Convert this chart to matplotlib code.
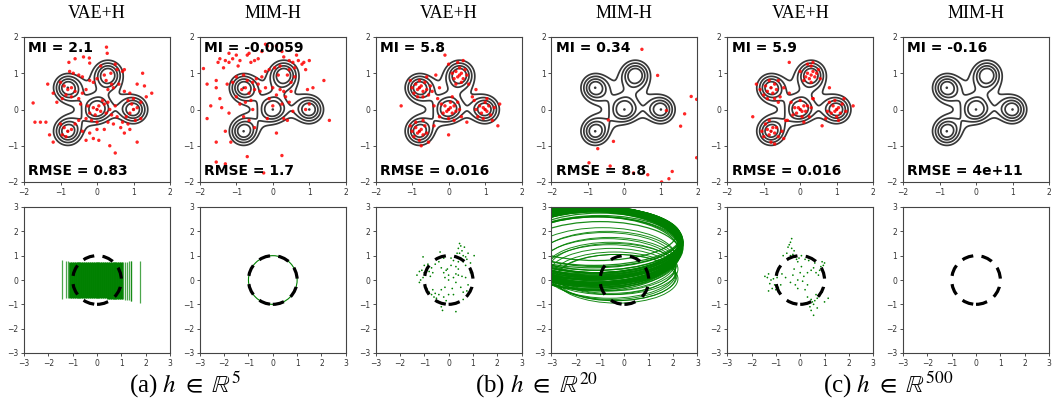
import numpy as np
import matplotlib
matplotlib.use('Agg')
import matplotlib.pyplot as plt
from matplotlib.patches import Circle, Ellipse

plt.rcParams['mathtext.fontset'] = 'stix'

# mixture components of the target density
mu_x = [-0.8, 0.3, 0.0, 1.0, -0.8]
mu_y = [0.6, 0.95, 0.0, 0.0, -0.6]
sig = [0.33, 0.342, 0.33, 0.33, 0.33]
wts = [1.0, 1.02, 1.0, 1.0, 1.0]
peak_dot = [True, False, True, True, True]
levels = [0.4976, 0.643, 0.776, 0.889]

titles = ['VAE+H', 'MIM-H', 'VAE+H', 'MIM-H', 'VAE+H', 'MIM-H']
mi_vals = ['2.1', '-0.0059', '5.8', '0.34', '5.9', '-0.16']
rmse_vals = ['0.83', '1.7', '0.016', '8.8', '0.016', '4e+11']
captions = [r'(a) $h\ \in\ \mathbb{R}^5$', r'(b) $h\ \in\ \mathbb{R}^{20}$', r'(c) $h\ \in\ \mathbb{R}^{500}$']

# reconstructed samples (top row)
pts_a_vae = [(0.26,1.72),(0.28,1.55),(-0.77,1.30),(-0.37,1.45),(-0.21,1.42),(-0.6,1.4),(-0.2,1.28),(0.5,1.25),
    (0.1,1.2),(0.75,1.1),(0.7,1.05),(0.55,1.1),(0.38,1.0),(0.2,0.95),(0.25,0.8),(-0.75,1.05),(-0.65,1.0),
    (-0.5,0.95),(-0.4,0.9),(-0.2,0.8),(-0.1,0.75),(0.0,0.85),(0.4,0.7),(0.45,0.6),(0.3,0.55),(0.6,0.7),
    (1.25,1.0),(1.1,0.7),(1.3,0.65),(1.5,0.45),(1.35,0.35),(0.9,0.45),(0.75,0.5),(0.85,0.25),(1.0,0.3),(1.2,0.2),
    (-1.0,0.75),(-0.9,0.65),(-0.8,0.55),(-0.7,0.6),(-0.85,0.4),(-0.95,0.3),(-0.7,0.35),(-0.6,0.5),(-1.35,0.7),
    (-1.2,0.45),(-1.1,0.2),(-0.5,0.3),(-0.4,0.45),(-0.3,0.55),(-0.45,0.15),
    (0.0,0.0),(0.05,0.1),(-0.1,0.05),(0.1,-0.05),(0.2,0.15),(0.3,0.2),(0.25,-0.1),(-0.05,-0.15),(-0.2,-0.1),
    (-0.25,0.1),(0.15,0.25),(0.35,0.0),(0.4,-0.15),(0.5,0.1),(0.55,-0.2),(-0.3,-0.25),(-0.15,-0.3),(0.0,-0.35),
    (0.3,-0.35),(0.45,-0.4),
    (1.0,0.0),(0.9,-0.1),(1.1,0.05),(0.95,0.15),(0.8,-0.2),(1.05,-0.3),(0.85,-0.4),(0.7,-0.35),(1.2,-0.25),
    (0.65,-0.5),(0.75,-0.65),(1.1,-0.9),(0.9,-0.55),
    (-0.8,-0.6),(-0.9,-0.5),(-0.7,-0.55),(-0.85,-0.75),(-0.95,-0.7),(-1.0,-0.4),(-0.6,-0.4),(-0.5,-0.3),
    (-1.3,-0.7),(-1.4,-0.35),(-1.55,-0.35),(-1.75,0.18),(-1.7,-0.35),(-1.2,-0.9),(-0.4,-0.6),(-0.3,-0.85),
    (-0.2,-0.65),(-0.1,-0.8),(0.05,-0.85),(0.35,-1.0),(0.5,-1.2),(0.2,-0.55),(0.0,-0.55)]

pts_a_mim = [(-1.9,1.13),(-1.8,0.7),(-1.7,0.1),(-1.8,-0.25),(-1.5,1.3),(-1.45,1.4),(-1.3,1.35),(-1.35,1.15),
    (-1.2,1.3),(-1.1,1.4),(-1.0,1.5),(-0.95,1.2),(-0.7,1.5),(-0.65,1.55),(-0.6,1.3),(-0.5,1.35),(-0.4,1.4),
    (-0.3,1.6),(-0.2,1.8),(-0.15,1.75),(0.1,1.75),(0.25,1.6),(0.3,1.45),(0.45,1.35),(0.55,1.3),(0.7,1.35),
    (0.65,1.5),(0.85,1.3),(1.0,1.35),(0.9,1.1),(0.6,1.15),(0.2,1.2),(0.05,1.15),(-0.1,1.1),(-0.2,1.05),
    (-0.3,0.9),(-0.45,0.85),(-0.55,0.75),(-0.7,0.8),(-0.8,0.95),(-1.0,0.9),(-1.1,0.75),(-1.25,0.7),(-1.55,0.8),
    (-1.55,0.6),(-1.45,0.3),(-1.4,0.05),(-1.2,-0.1),(-1.0,0.35),(-0.85,0.55),(-0.75,0.6),(-0.65,0.45),
    (-0.5,0.55),(-0.4,0.7),(-0.35,0.5),(-0.6,0.25),(-0.75,0.2),(-0.9,0.15),(-0.55,0.0),(-0.65,-0.3),
    (-0.5,-0.5),(-0.2,0.6),(0.0,0.6),(0.2,0.55),(0.1,0.4),(0.3,0.5),(0.35,0.35),(0.5,0.5),(0.45,0.2),
    (0.25,0.15),(0.0,0.1),(-0.1,0.3),(0.55,-0.05),(0.4,-0.3),(0.3,-0.25),(0.1,-0.65),(0.5,0.75),(0.6,0.9),
    (0.4,0.95),(0.15,0.95),(0.95,0.55),(1.0,0.15),(1.1,0.6),(1.4,0.8),(1.55,-0.3),(0.9,0.0),(-1.55,-0.9),
    (-1.55,-1.45),(-1.3,-1.5),(-0.7,-1.3),(0.25,-1.27),(-0.25,-1.75),(-1.3,-0.6),(-1.15,-0.9),(-0.8,-0.2),
    (-0.15,-0.25),(0.8,1.25),(-0.9,1.35),(-1.2,1.55),(0.45,1.1)]

pts_b_vae = [(-0.8,0.6),(-0.75,0.65),(-0.85,0.55),(-0.7,0.5),(-0.9,0.7),(-0.6,0.55),(-0.95,0.45),(-0.8,0.8),
    (-0.65,0.75),(-0.55,0.4),(-1.0,0.6),(-0.7,0.35),(-0.85,0.35),(-0.5,0.65),(-0.6,0.9),(-1.05,0.8),(-0.45,0.5),
    (0.3,0.95),(0.35,1.0),(0.25,0.9),(0.4,0.85),(0.2,1.05),(0.3,1.15),(0.45,1.1),(0.15,0.85),(0.35,0.75),
    (0.5,0.95),(0.25,1.3),(0.4,1.35),(0.1,1.0),(0.55,0.7),(0.2,0.7),
    (0.0,0.0),(0.05,0.05),(-0.05,-0.05),(0.1,-0.1),(-0.1,0.1),(0.15,0.1),(0.2,-0.05),(-0.15,-0.1),(0.05,0.2),
    (-0.2,0.15),(0.25,0.2),(0.0,-0.25),(0.3,0.0),(-0.25,-0.2),(0.1,0.35),(-0.3,0.3),(0.35,-0.2),(0.15,-0.3),
    (1.0,0.0),(0.95,0.05),(1.05,-0.05),(0.9,-0.1),(1.1,0.1),(0.85,0.1),(1.15,-0.15),(1.0,0.2),(0.95,-0.25),
    (0.75,0.0),(1.25,0.05),(0.8,-0.2),(1.05,0.3),(1.2,-0.3),(0.7,0.25),(1.4,0.15),
    (-0.8,-0.6),(-0.75,-0.55),(-0.85,-0.65),(-0.9,-0.5),(-0.7,-0.7),(-0.95,-0.75),(-0.65,-0.45),(-0.8,-0.85),
    (-1.0,-0.6),(-0.6,-0.65),(-0.75,-1.0),(-0.9,-0.35),(-0.55,-0.9),(-1.05,-0.45),(-0.7,-0.3),
    (-0.1,1.5),(0.0,1.25),(-0.35,0.95),(0.75,0.55),(0.65,0.35),(-0.4,-0.45),(0.5,-0.35),(-0.25,0.6),
    (1.35,-0.45),(0.0,-0.7),(-1.3,0.1),(-0.4,0.1)]

pts_b_mim = [(0.48,1.66),(0.91,0.94),(1.83,0.36),(1.98,0.28),(1.15,-0.03),(1.65,-0.12),(1.54,-0.46),
    (-0.44,-0.29),(-0.3,-0.88),(-0.73,-1.08),(-0.97,-1.47),(-0.39,-1.56),(0.25,-1.75),(0.64,-1.8),
    (1.31,-1.71),(1.22,-1.91),(1.02,-2.0),(1.98,-1.33)]

pts_c_vae = [(-0.8,0.6),(-0.7,0.7),(-0.9,0.5),(-0.75,0.45),(-0.95,0.65),(-0.65,0.55),(-1.0,0.4),(-0.85,0.8),
    (-0.6,0.8),(-0.55,0.35),(-1.1,0.55),(-0.7,0.3),(-0.9,0.3),(-0.45,0.6),(-1.2,0.7),(-0.6,0.2),(-0.3,0.45),
    (0.3,0.95),(0.35,1.05),(0.25,0.85),(0.4,0.9),(0.2,1.0),(0.3,1.2),(0.45,1.0),(0.15,0.9),(0.3,0.75),
    (0.5,1.1),(0.35,1.3),(0.2,1.25),(0.1,0.8),(0.55,0.85),(0.0,1.05),
    (0.0,0.0),(0.05,-0.05),(-0.05,0.05),(0.1,0.1),(-0.1,-0.1),(0.15,-0.05),(0.2,0.1),(-0.15,0.05),(0.05,-0.2),
    (-0.2,-0.15),(0.25,-0.2),(0.0,0.25),(0.3,0.05),(-0.25,0.2),(0.1,-0.35),(0.35,0.3),(-0.35,-0.3),
    (1.0,0.0),(0.95,-0.05),(1.05,0.05),(0.9,0.1),(1.1,-0.1),(0.85,-0.1),(1.15,0.15),(1.0,-0.2),(0.95,0.25),
    (0.75,-0.05),(1.25,-0.05),(0.8,0.2),(1.05,-0.3),(1.2,0.3),(0.7,-0.25),
    (-0.8,-0.6),(-0.75,-0.5),(-0.85,-0.7),(-0.9,-0.55),(-0.7,-0.65),(-1.0,-0.75),(-0.65,-0.5),(-0.8,-0.9),
    (-1.05,-0.6),(-0.6,-0.75),(-0.7,-0.95),(-0.95,-0.4),(-0.5,-0.6),(-0.85,-0.3),
    (-0.4,-0.3),(0.35,0.3),(-0.3,1.3),(0.8,0.6),(0.6,-0.45),(-0.45,-0.8),(1.45,0.1),(-1.3,-0.2)]

pts_c_mim = []

# latent codes / posteriors (bottom row)
seg_x = [-1.45, -1.27, -1.21, 1.02, 1.08, 1.15, 1.22, 1.3, 1.38, 1.41, 1.78]
seg_lo = [-0.78, -0.75, -0.75, -0.8, -0.8, -0.82, -0.82, -0.83, -0.85, -0.85, -0.95]
seg_hi = [0.84, 0.78, 0.78, 0.74, 0.75, 0.76, 0.76, 0.77, 0.8, 0.78, 0.8]
blk_x = [-1.1, -1.03, -0.95, -0.87, -0.8, -0.72, -0.64, -0.56, -0.49, -0.41, -0.33, -0.25, -0.18, -0.1,
    -0.02, 0.06, 0.13, 0.21, 0.29, 0.37, 0.44, 0.52, 0.6, 0.68, 0.75, 0.83, 0.91, 0.97]
blk_lo = [-0.72, -0.72, -0.72, -0.72, -0.72, -0.73, -0.73, -0.73, -0.73, -0.74, -0.74, -0.74, -0.75, -0.75,
    -0.75, -0.75, -0.76, -0.76, -0.76, -0.76, -0.77, -0.77, -0.77, -0.77, -0.78, -0.78, -0.78, -0.78]
blk_hi = [0.74, 0.74, 0.74, 0.73, 0.73, 0.73, 0.73, 0.73, 0.73, 0.72, 0.72, 0.72, 0.72, 0.72,
    0.72, 0.72, 0.72, 0.72, 0.72, 0.72, 0.72, 0.72, 0.72, 0.72, 0.72, 0.72, 0.72, 0.72]

ell_cx = [-0.3, -0.4, -0.5, -0.6, -0.45, -0.7, -0.6, -0.8, -0.7, -0.9, -0.35, -0.55,
    -1.0, -1.1, -1.2, -1.3, -1.0, -1.15, -1.25, -1.05, -1.35, -1.1, -1.2, -1.3, -1.0, -1.4, -1.15, -1.25,
    -1.05, -1.3, -1.2, -1.1, -1.35, -1.0, -1.25, -1.15,
    -1.1, -1.2, -1.3, -1.4, -1.5, -1.0, -1.15, -1.25, -1.35, -1.45, -1.05, -1.2, -1.3, -1.4, -1.1,
    -1.25, -1.35, -1.5, -1.0, -1.2, -1.3, -1.15, -1.4, -1.05, -1.25, -1.35, -1.1, -1.45, -1.2, -1.3]
ell_cy = [0.05, 0.15, 0.25, 0.35, 0.45, 0.55, 0.65, 0.75, 0.85, 0.95, 0.1, 0.5,
    1.1, 1.2, 1.3, 1.4, 1.5, 1.35, 1.45, 1.25, 1.55, 1.6, 1.15, 1.3, 1.4, 1.5, 1.7, 1.8,
    1.65, 1.2, 1.45, 1.75, 1.35, 1.55, 1.6, 1.9,
    1.35, 1.4, 1.45, 1.5, 1.55, 1.3, 1.6, 1.65, 1.4, 1.45, 1.5, 1.55, 1.25, 1.35, 1.7,
    1.5, 1.6, 1.4, 1.45, 1.3, 1.75, 1.2, 1.65, 1.35, 1.55, 1.3, 1.45, 1.6, 1.4, 1.5]
ell_w = [5.0, 5.1, 5.2, 5.4, 5.3, 5.6, 5.5, 5.8, 5.7, 6.0, 4.9, 5.3,
    6.6, 6.8, 7.0, 7.2, 6.8, 7.0, 7.2, 6.8, 7.4, 7.0, 6.9, 7.1, 6.6, 7.6, 7.0, 7.1,
    6.6, 7.2, 7.0, 6.8, 7.4, 6.6, 7.0, 6.6,
    7.0, 7.1, 7.3, 7.5, 7.7, 6.8, 7.1, 7.2, 7.3, 7.6, 6.9, 7.2, 7.1, 7.4, 6.9,
    7.3, 7.4, 7.6, 6.7, 7.0, 7.2, 6.9, 7.5, 6.8, 7.2, 7.2, 7.0, 7.6, 7.1, 7.3]
ell_h = [2.0, 2.0, 2.1, 2.2, 2.1, 2.3, 2.2, 2.4, 2.3, 2.4, 1.9, 2.1,
    2.6, 2.8, 3.0, 3.0, 2.8, 2.9, 3.2, 2.7, 3.0, 2.6, 2.9, 3.1, 2.5, 2.8, 2.6, 2.4,
    2.7, 3.2, 2.9, 2.4, 3.1, 2.6, 2.6, 2.2,
    3.0, 3.1, 3.1, 3.0, 3.0, 2.9, 2.8, 2.7, 3.2, 3.1, 2.9, 2.8, 3.3, 3.2, 2.6,
    3.0, 2.8, 3.2, 3.0, 3.2, 2.5, 3.3, 2.8, 3.1, 2.9, 3.3, 3.1, 2.9, 3.2, 3.0]

z_b_vae = [(0.45,1.5),(0.5,1.4),(0.4,1.3),(0.55,1.2),(0.45,1.1),(0.6,1.0),(0.7,0.95),(0.5,0.9),(0.35,1.1),
    (0.65,1.35),(0.75,0.85),(0.3,0.95),(0.8,1.1),(1.05,1.0),(0.6,0.75),(0.7,0.6),(0.4,0.75),(0.3,0.55),
    (0.2,0.8),(0.9,0.7),
    (-1.3,0.2),(-1.2,0.35),(-1.1,0.4),(-1.0,0.3),(-0.9,0.45),(-0.95,0.2),(-1.05,0.1),(-1.15,0.0),(-0.8,0.35),
    (-0.7,0.5),(-1.0,0.6),(-0.85,0.65),(-1.05,0.95),(-0.75,0.15),(-1.2,-0.1),(-0.65,0.3),
    (-0.35,1.15),(-0.2,0.9),(-0.4,0.75),(-0.55,0.65),(-0.3,0.5),(-0.1,0.4),(-0.2,0.3),(0.0,0.2),(-0.05,0.45),
    (0.1,0.6),(-0.15,0.1),
    (-0.8,-0.5),(-0.7,-0.6),(-0.6,-0.7),(-0.5,-0.75),(-0.45,-0.85),(-0.35,-0.95),(-0.3,-1.1),(-0.25,-1.25),
    (-0.55,-0.55),(-0.65,-0.4),(-0.4,-0.6),(-0.9,-0.35),(-0.3,-0.4),(-0.2,-0.7),(-0.1,-0.85),(0.0,-0.6),
    (-0.15,-0.3),
    (0.0,0.0),(0.2,0.1),(0.3,-0.1),(0.4,0.2),(0.5,-0.3),(0.6,-0.5),(0.7,0.1),(0.8,-0.2),(0.6,-0.8),(0.3,-1.3),
    (0.4,0.45),(0.15,-0.35),(0.75,-0.45),(0.9,0.3),(0.2,-0.6),(0.1,0.9),(0.3,0.25),(0.55,0.15)]

z_c_vae = [(-0.35,1.7),(-0.4,1.55),(-0.45,1.45),(-0.5,1.35),(-0.35,1.3),(-0.25,1.2),(-0.3,1.05),(-0.4,1.0),
    (-0.55,1.1),(-0.2,0.95),(-0.15,0.85),(-0.1,0.75),(-0.7,1.0),(0.05,1.0),(-0.05,0.9),(0.2,0.85),(0.35,0.8),
    (0.5,0.85),(0.6,0.7),
    (0.9,0.75),(1.0,0.7),(0.85,0.55),(0.8,0.4),(0.75,0.2),(0.65,0.3),(0.95,0.6),(0.55,0.5),(0.45,0.4),
    (-1.45,0.15),(-1.35,0.1),(-1.3,0.25),(-1.2,0.0),(-1.25,-0.15),(-1.1,0.05),(-1.05,-0.2),(-1.15,-0.35),
    (-1.0,-0.4),(-0.9,-0.3),(-0.85,-0.5),(-0.95,0.1),(-0.8,-0.2),(-1.3,-0.45),(-0.75,0.25),(-0.6,0.1),
    (-0.3,0.2),(-0.1,0.0),(0.1,-0.05),(0.0,0.3),(-0.2,-0.2),(0.15,0.15),(-0.4,-0.1),(0.3,-0.2),(-0.1,-0.35),
    (0.2,-0.4),(-0.25,0.45),(0.05,0.55),(0.3,0.3),
    (0.3,-0.7),(0.45,-0.8),(0.5,-0.9),(0.6,-0.85),(0.55,-1.0),(0.4,-1.1),(0.45,-1.25),(0.55,-1.45),(0.7,-0.75),
    (0.8,-0.65),(0.7,-1.15),(1.0,-0.9),(1.15,-0.75),(0.35,-0.95),(0.65,-0.6),(0.9,-0.5)]

top_pts = [pts_a_vae, pts_a_mim, pts_b_vae, pts_b_mim, pts_c_vae, pts_c_mim]

W, H = 1053, 412
fig = plt.figure(figsize=(W / 100, H / 100), dpi=100)
lefts = [24, 199.8, 375.6, 551.4, 727.2, 903]

# density on a grid
gx, gy = np.meshgrid(np.linspace(-2, 2, 400), np.linspace(-2, 2, 400))
dens = np.zeros_like(gx)
for mx, my, s, w in zip(mu_x, mu_y, sig, wts):
    dens += w * np.exp(-((gx - mx) ** 2 + (gy - my) ** 2) / (2 * s ** 2))
dot_x = [m for m, d in zip(mu_x, peak_dot) if d]
dot_y = [m for m, d in zip(mu_y, peak_dot) if d]


def style(ax, lim):
    ax.set_xlim(-lim, lim)
    ax.set_ylim(-lim, lim)
    ax.set_xticks(range(-lim, lim + 1))
    ax.set_yticks(range(-lim, lim + 1))
    ax.tick_params(labelsize=5.5, length=2.5, width=0.6, pad=1.5, colors='#333333')
    for sp in ax.spines.values():
        sp.set_linewidth(0.8)
        sp.set_color('#444444')


for i in range(6):
    ax = fig.add_axes([lefts[i] / W, 1 - 182 / H, 146 / W, 145 / H])
    ax.contour(gx, gy, dens, levels=levels, colors='#383838', linewidths=1.25)
    ax.scatter(dot_x, dot_y, s=3.5, c='#383838', edgecolors='none')
    pts = top_pts[i]
    if pts:
        ax.scatter([p[0] for p in pts], [p[1] for p in pts], s=6, c='red', edgecolors='none', alpha=0.85, zorder=3)
    style(ax, 2)
    ax.text(0.03, 0.975, 'MI = ' + mi_vals[i], transform=ax.transAxes, fontsize=10, fontweight='bold', va='top', ha='left')
    ax.text(0.03, 0.045, 'RMSE = ' + rmse_vals[i], transform=ax.transAxes, fontsize=10, fontweight='bold', va='baseline', ha='left')
    fig.text((lefts[i] + 73) / W, 1 - 13 / H, titles[i], family='Liberation Serif', fontsize=13, ha='center', va='center')

    bx = fig.add_axes([lefts[i] / W, 1 - 353 / H, 146 / W, 146 / H])
    if i == 0:
        bx.vlines(blk_x, blk_lo, blk_hi, colors='green', linewidth=2.0)
        bx.vlines(seg_x, seg_lo, seg_hi, colors='green', linewidth=0.9, alpha=0.7)
    elif i == 1:
        bx.add_patch(Circle((0, 0), 1, fill=False, ec='green', lw=0.8))
    elif i == 2:
        bx.scatter([p[0] for p in z_b_vae], [p[1] for p in z_b_vae], s=1.5, c='green', edgecolors='none')
    elif i == 3:
        for k, (cx, cy, w, h) in enumerate(zip(ell_cx, ell_cy, ell_w, ell_h)):
            bx.add_patch(Ellipse((cx, cy), w, h, fill=False, ec='green', lw=0.7 if k < 12 else 0.9, alpha=0.9))
    elif i == 4:
        bx.scatter([p[0] for p in z_c_vae], [p[1] for p in z_c_vae], s=1.5, c='green', edgecolors='none')
    bx.add_patch(Circle((0, 0), 1, fill=False, ec='black', lw=2.3, ls=(0, (3.6, 2.6)), zorder=4))
    style(bx, 3)

for j in range(3):
    cxp = (lefts[2 * j] + lefts[2 * j + 1] + 146) / 2
    fig.text(cxp / W, 1 - 385 / H, captions[j], family='Liberation Serif', fontsize=18, ha='center', va='center')

fig.savefig('out.png', dpi=100)
